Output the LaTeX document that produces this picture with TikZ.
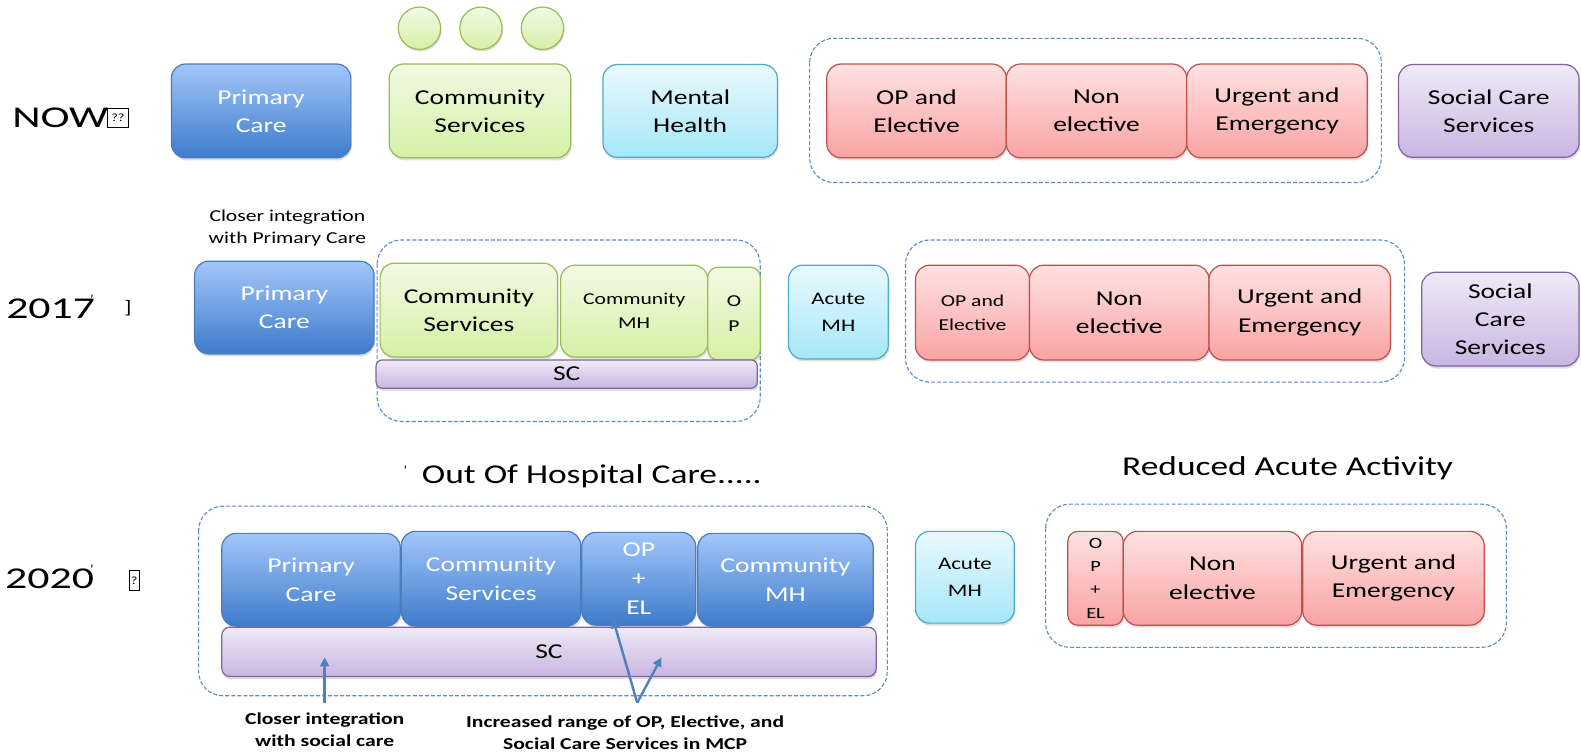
\documentclass[tikz,border=0pt]{standalone}
\usepackage{fontspec}
\setmainfont{Carlito}[FakeStretch=1.3]
\newfontfamily\yearfont{Carlito}[FakeStretch=1.45]
\usetikzlibrary{shadows,arrows.meta}
\definecolor{bdraw}{HTML}{4A7EBB}
\definecolor{btop}{HTML}{A2C6FA}
\definecolor{bbot}{HTML}{3E7BCB}
\definecolor{gdraw}{HTML}{9BBB59}
\definecolor{gtop}{HTML}{F2FAE4}
\definecolor{gbot}{HTML}{D5F0A6}
\definecolor{cdraw}{HTML}{4BACC6}
\definecolor{ctop}{HTML}{E9F9FD}
\definecolor{cbot}{HTML}{A6E7F8}
\definecolor{rdraw}{HTML}{C0504D}
\definecolor{rtop}{HTML}{FFE2E2}
\definecolor{rbot}{HTML}{F9A3A3}
\definecolor{pdraw}{HTML}{8064A2}
\definecolor{ptop}{HTML}{EFEAF7}
\definecolor{pbot}{HTML}{C8B6E2}
\definecolor{dashc}{HTML}{5B8BC9}
\definecolor{arrc}{HTML}{4F81BD}
\newcommand{\fsz}[2]{\fontsize{#1}{#2}\selectfont}
\tikzset{
  basebox/.style={rounded corners=14pt, draw, line width=1.2pt, align=center, inner sep=0pt,
    drop shadow={opacity=0.25, shadow xshift=1pt, shadow yshift=-2.5pt}, font=\fsz{21}{28}},
  bluebox/.style={basebox, draw=bdraw, top color=btop, bottom color=bbot, text=white},
  greenbox/.style={basebox, draw=gdraw, top color=gtop, bottom color=gbot},
  cyanbox/.style={basebox, draw=cdraw, top color=ctop, bottom color=cbot},
  redbox/.style={basebox, draw=rdraw, top color=rtop, bottom color=rbot},
  purplebox/.style={basebox, draw=pdraw, top color=ptop, bottom color=pbot},
  dotball/.style={circle, draw=gdraw, line width=1.2pt, top color=gtop, bottom color=gbot, minimum size=42pt, inner sep=0pt,
    drop shadow={opacity=0.25, shadow xshift=1pt, shadow yshift=-2pt}},
  group/.style={draw=dashc, dashed, dash pattern=on 4pt off 2pt, line width=1.1pt, rounded corners=24pt},
  yearlbl/.style={font=\yearfont\fsz{30}{36}, anchor=west, inner sep=0pt},
  tofu/.style={draw, line width=0.9pt, inner sep=0pt, font=\fsz{11}{12}},
  headlbl/.style={font=\fsz{27}{32}, inner sep=0pt},
  notelbl/.style={font=\fsz{16.5}{22}, align=center, inner sep=0pt},
  boldlbl/.style={font=\bfseries\fsz{16.5}{22}, align=center, inner sep=0pt},
  pointer/.style={draw=arrc, line width=2.4pt, -{Triangle[length=9pt,width=9pt]}},
}
\begin{document}
\begin{tikzpicture}[x=1pt,y=-1pt]
\useasboundingbox (0,0) rectangle (1568,747);
\fill[white] (0,0) rectangle (1568,747);

% ---------------- Row NOW ----------------
\node[yearlbl] (now) at (12,117) {NOW};
\node[tofu, minimum width=21pt, minimum height=19pt] (nowbox) at (117,117) {??};
\node[bluebox, minimum width=178pt, minimum height=93pt] (pc1) at (259,110) {Primary\\Care};
\node[greenbox, minimum width=180pt, minimum height=93pt] (cs1) at (476,110) {Community\\Services};
\node[dotball] (ball1) at (416,28) {};
\node[dotball] (ball2) at (477,28) {};
\node[dotball] (ball3) at (538,28) {};
\node[cyanbox, minimum width=173pt, minimum height=92pt] (mh1) at (684.5,110) {Mental\\Health};
\draw[group] (803,38) rectangle (1370,181);
\node[redbox, minimum width=178pt, minimum height=93pt] (op1) at (909,110) {OP and\\Elective};
\node[redbox, minimum width=179pt, minimum height=93pt] (ne1) at (1087.5,110) {Non\\elective};
\node[redbox, minimum width=179pt, minimum height=93pt] (ue1) at (1266.5,110) {Urgent and\\Emergency};
\node[purplebox, minimum width=179pt, minimum height=92pt] (scs1) at (1476.5,110) {Social Care\\Services};

% ---------------- Row 2017 ----------------
\node[yearlbl] (y17) at (6,306) {2017};
\node[font=\fsz{12}{12}, inner sep=0pt] (y17t) at (91,297) {'};
\node[font=\fsz{18}{22}, inner sep=0pt] (y17m) at (127,306) {]};
\node[notelbl] (cap17) at (285,226) {Closer integration\\with Primary Care};
\node[bluebox, minimum width=178pt, minimum height=92pt] (pc2) at (282,305) {Primary\\Care};
\draw[group] (374,238) rectangle (754,418);
\node[greenbox, minimum width=176pt, minimum height=93pt] (cs2) at (465,307.5) {Community\\Services};
\node[greenbox, minimum width=146pt, minimum height=91pt, font=\fsz{16.5}{24}] (cmh2) at (629,308.5) {Community\\MH};
\node[greenbox, minimum width=52pt, minimum height=92pt, rounded corners=10pt, font=\fsz{16.5}{24}] (op2) at (728,311) {O\\P};
\node[purplebox, minimum width=378pt, minimum height=28pt, rounded corners=6pt] (sc2) at (562,371) {SC};
\node[cyanbox, minimum width=99pt, minimum height=93pt, font=\fsz{17.5}{27}] (amh2) at (831.5,309.5) {Acute\\MH};
\draw[group] (898,238) rectangle (1393,379);
\node[redbox, minimum width=113pt, minimum height=94pt, font=\fsz{16.5}{24}] (ope2) at (964.5,310) {OP and\\Elective};
\node[redbox, minimum width=178pt, minimum height=94pt] (ne2) at (1110,310) {Non\\elective};
\node[redbox, minimum width=180pt, minimum height=94pt] (ue2) at (1289,310) {Urgent and\\Emergency};
\node[purplebox, minimum width=156pt, minimum height=93pt] (scs2) at (1488,316.5) {Social\\Care\\Services};

% ---------------- Row 2020 ----------------
\node[yearlbl] (y20) at (5,574) {2020};
\node[font=\fsz{12}{12}, inner sep=0pt] (y20t) at (91,565) {'};
\node[tofu, minimum width=10pt, minimum height=20pt] (y20m) at (133,576) {?};
\node[font=\fsz{12}{12}, inner sep=0pt] (oohtick) at (402,466) {'};
\node[headlbl] (ooh) at (587,472) {Out Of Hospital Care.....};
\node[headlbl] (raa) at (1277,464) {Reduced Acute Activity};
\draw[group] (197,502) rectangle (880,690);
\node[bluebox, minimum width=177pt, minimum height=92pt] (pc3) at (308.5,575) {Primary\\Care};
\node[bluebox, minimum width=178pt, minimum height=94pt] (cs3) at (487,574) {Community\\Services};
\node[bluebox, minimum width=113pt, minimum height=92pt, font=\fsz{21}{29}] (opel3) at (633.5,574) {OP\\+\\EL};
\node[bluebox, minimum width=174pt, minimum height=92pt] (cmh3) at (779,575) {Community\\MH};
\node[purplebox, minimum width=649pt, minimum height=49pt, rounded corners=8pt] (sc3) at (544.5,646.5) {SC};
\coordinate (a1s) at (322,697);
\coordinate (a1e) at (322,652);
\coordinate (a2s) at (632,697);
\coordinate (a2e) at (608,614);
\coordinate (a3e) at (656,652);
\draw[pointer] (a1s) -- (a1e);
\draw[pointer] (a2s) -- (a2e);
\draw[pointer] (a2s) -- (a3e);
\node[boldlbl] (lbl1) at (322,724) {Closer integration\\with social care};
\node[boldlbl] (lbl2) at (620,727) {Increased range of OP, Elective, and\\Social Care Services in MCP};
\node[cyanbox, minimum width=98pt, minimum height=91pt, font=\fsz{17.5}{27}] (amh3) at (957,572.5) {Acute\\MH};
\draw[group] (1037,500) rectangle (1494,642);
\node[redbox, minimum width=55pt, minimum height=93pt, rounded corners=10pt, font=\fsz{15.5}{23}] (opel5) at (1086.5,573.5) {O\\P\\+\\EL};
\node[redbox, minimum width=177pt, minimum height=93pt] (ne3) at (1202.5,573.5) {Non\\elective};
\node[redbox, minimum width=180pt, minimum height=93pt] (ue3) at (1382,573.5) {Urgent and\\Emergency};
\end{tikzpicture}
\end{document}
